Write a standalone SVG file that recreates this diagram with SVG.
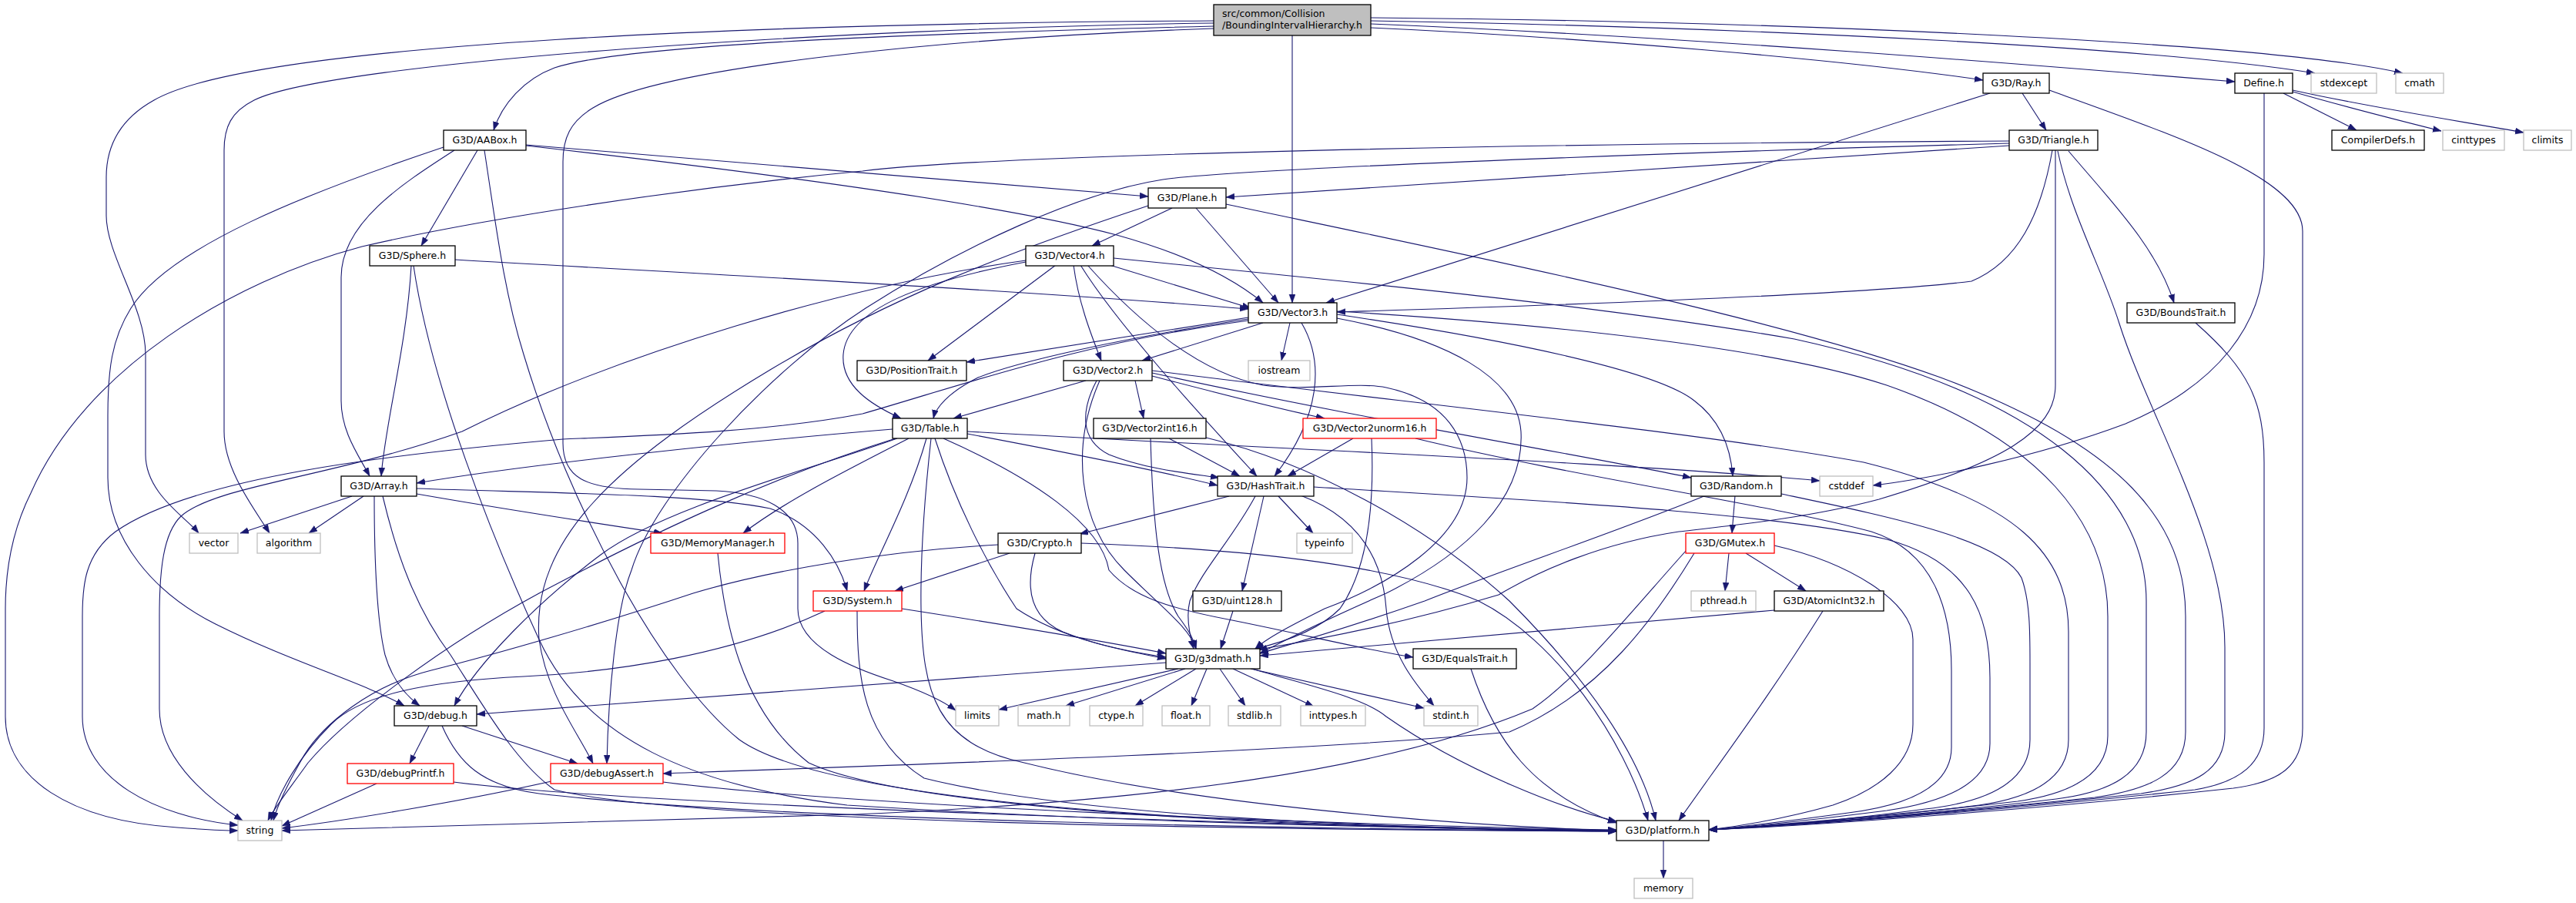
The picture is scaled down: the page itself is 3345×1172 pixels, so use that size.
<svg xmlns="http://www.w3.org/2000/svg" width="3345" height="1172" viewBox="0 0 3345 1172">
<defs>
<marker id="a" markerUnits="userSpaceOnUse" markerWidth="12" markerHeight="9" refX="11" refY="4" orient="auto"><path d="M0,0 L11,4 L0,8 z" fill="#191970" stroke="#191970" stroke-width="0.5"/></marker>
<style>
.e path{fill:none;stroke:#191970;stroke-width:1.1;marker-end:url(#a)}
.n rect{fill:#fff;stroke:#000;stroke-width:1.3}
.n.g rect{stroke:#bfbfbf}
.n.r rect{stroke:#ff0000}
.n text{font-family:"DejaVu Sans","Liberation Sans",sans-serif;font-size:12.5px;text-anchor:middle;fill:#000}
#n_root rect{fill:#bfbfbf;stroke:#000}
#n_root text{text-anchor:start}
</style>
</defs>
<rect width="3345" height="1172" fill="#fff"/>
<g id="edges" class="e">
<path d="M1576,34 C1250,42 820,55 720,88 C680,103 652,135 641,169"/>
<path d="M1576,27 C1000,30 330,55 200,130 C155,155 138,190 138,230 L138,280 C138,330 189,400 189,460 L189,590 C189,640 240,670 258,692"/>
<path d="M1576,30 C1100,36 430,80 330,130 C300,145 291,165 291,195 L291,560 C291,610 330,660 350,692"/>
<path d="M1576,37 C1250,48 860,85 770,140 C740,158 731,180 731,210 L731,575 C731,620 760,634 830,635 L930,637 C990,640 1036,660 1036,705 L1036,790 C1036,840 1110,868 1160,884 C1200,898 1225,910 1241,922"/>
<path d="M1678,46 L1678,393"/>
<path d="M1780,36 C2050,48 2400,78 2575,104"/>
<path d="M1780,31 C2200,48 2650,85 2902,106"/>
<path d="M1780,27 C2300,36 2800,62 3006,95"/>
<path d="M1780,23 C2350,28 2950,56 3120,95"/>
<path d="M683,188 L1491,255"/>
<path d="M683,189 C1000,225 1300,265 1450,305 C1540,330 1600,360 1640,393"/>
<path d="M620,195 L547,319"/>
<path d="M590,195 C520,240 443,290 443,360 L443,520 C443,560 465,590 480,618"/>
<path d="M576,191 C400,250 220,320 170,400 C145,440 140,480 140,540 L140,620 C140,700 200,770 280,810 C380,860 470,885 525,916"/>
<path d="M629,195 C645,300 655,380 680,460 C740,660 860,880 960,960 C1100,1060 1800,1075 2099,1078"/>
<path d="M2626,121 L2657,169"/>
<path d="M2584,121 L1722,393"/>
<path d="M2661,117 C2820,175 2990,230 2990,300 L2990,945 C2990,995 2960,1015 2900,1023 C2650,1050 2350,1072 2219,1077"/>
<path d="M2965,121 L3060,169"/>
<path d="M2977,119 C3050,140 3130,160 3170,170"/>
<path d="M2977,117 C3080,140 3200,158 3277,172"/>
<path d="M2940,121 L2940,330 C2940,420 2880,500 2760,550 C2640,595 2500,622 2432,630"/>
<path d="M2609,189 C2200,215 1800,240 1592,256"/>
<path d="M2609,183 C2000,186 1300,200 1120,222 C880,245 620,285 470,320 C300,365 110,480 40,640 C15,690 7,740 7,790 L7,930 C7,1010 90,1065 230,1074 C270,1077 290,1078 309,1078"/>
<path d="M2609,186 C2100,200 1600,220 1510,233 C1400,250 1250,320 1124,400 C1000,480 850,640 820,740 C800,790 790,900 788,991"/>
<path d="M2665,195 C2650,280 2620,340 2560,365 C2400,385 1900,400 1736,405"/>
<path d="M2669,195 L2669,500 C2669,560 2600,600 2440,648 C2350,672 2250,682 2180,690 C2080,705 2000,740 1946,772 C1820,810 1700,832 1634,843"/>
<path d="M2672,196 C2690,280 2730,350 2752,420 C2790,540 2889,700 2889,840 L2889,950 C2889,1000 2850,1020 2780,1030 C2550,1055 2330,1070 2219,1077"/>
<path d="M2686,196 C2740,260 2800,320 2823,393"/>
<path d="M2851,419 C2920,480 2940,520 2940,600 L2940,945 C2940,990 2910,1015 2850,1025 C2600,1052 2340,1071 2219,1077"/>
<path d="M1522,270 L1418,319"/>
<path d="M1553,270 L1660,393"/>
<path d="M1592,265 C1900,330 2300,410 2520,490 C2760,580 2838,680 2838,800 L2838,950 C2838,1005 2790,1025 2720,1035 C2500,1058 2320,1071 2219,1077"/>
<path d="M1491,267 C1300,330 1150,390 1000,480 C800,600 690,700 700,830 C710,900 750,950 770,991"/>
<path d="M591,337 C900,355 1300,375 1621,401"/>
<path d="M534,345 C528,450 500,550 495,618"/>
<path d="M537,345 C560,500 640,700 700,830 C760,960 900,1020 1100,1045 C1500,1070 1900,1076 2099,1078"/>
<path d="M1441,344 L1624,400"/>
<path d="M1371,344 L1205,468"/>
<path d="M1394,344 C1400,390 1415,430 1430,468"/>
<path d="M1403,344 C1450,420 1560,540 1632,618"/>
<path d="M1412,344 C1480,420 1560,485 1640,500 C1700,508 1760,495 1800,503 C1880,520 1905,570 1905,620 C1905,700 1800,760 1720,790 C1680,810 1645,828 1630,842"/>
<path d="M1332,340 C1200,365 1100,400 1095,460 C1092,500 1130,525 1170,543"/>
<path d="M1332,338 C1100,370 800,460 600,560 C430,620 280,630 235,670 C212,692 207,740 207,800 L207,920 C207,980 260,1030 315,1065"/>
<path d="M1446,335 C1800,370 2100,400 2330,440 C2650,510 2787,640 2787,780 L2787,950 C2787,1005 2740,1028 2670,1037 C2480,1060 2310,1071 2219,1077"/>
<path d="M1621,412 L1255,470"/>
<path d="M1621,414 C1450,440 1320,470 1270,490 C1230,510 1215,530 1212,543"/>
<path d="M1640,419 L1483,468"/>
<path d="M1675,419 L1664,468"/>
<path d="M1690,419 C1720,470 1715,540 1655,618"/>
<path d="M1736,413 C1880,440 1970,490 1975,560 C1980,650 1900,720 1800,770 C1720,805 1670,830 1636,848"/>
<path d="M1736,408 C1950,440 2150,480 2200,520 C2240,550 2248,590 2250,618"/>
<path d="M1736,404 C2000,420 2300,450 2450,500 C2650,570 2737,680 2737,800 L2737,955 C2737,1005 2690,1030 2620,1040 C2450,1060 2300,1071 2219,1077"/>
<path d="M1621,416 C1400,445 1250,500 1120,537 C1000,560 850,565 731,570 C500,590 250,620 150,690 C110,720 107,760 107,800 L107,930 C107,1010 200,1060 309,1071"/>
<path d="M1410,494 L1238,543"/>
<path d="M1424,494 C1405,530 1400,570 1440,590 C1490,610 1550,615 1583,620"/>
<path d="M1428,494 C1390,580 1400,680 1460,740 C1510,790 1545,815 1553,842"/>
<path d="M1474,494 L1485,543"/>
<path d="M1496,488 C1580,510 1680,535 1720,543"/>
<path d="M1496,484 C1750,540 2050,590 2196,620"/>
<path d="M1496,481 C1800,520 2200,560 2420,600 C2620,650 2686,720 2686,820 L2686,960 C2686,1010 2640,1035 2570,1045 C2430,1063 2290,1072 2219,1077"/>
<path d="M1159,557 C1000,570 700,600 541,627"/>
<path d="M1163,569 C1000,620 850,690 700,770 C580,835 450,930 400,990 C375,1025 355,1050 348,1065"/>
<path d="M1165,569 C1050,610 860,660 780,720 C700,780 620,860 590,916"/>
<path d="M1180,569 C1100,610 1020,650 965,692"/>
<path d="M1203,569 C1180,650 1140,720 1122,767"/>
<path d="M1209,569 C1200,650 1195,720 1196,790 C1198,900 1215,965 1330,990 C1550,1045 1900,1072 2099,1078"/>
<path d="M1214,569 C1240,650 1280,730 1320,790 C1380,830 1460,845 1514,853"/>
<path d="M1225,569 C1340,620 1430,680 1440,740 C1470,775 1520,790 1600,805 C1700,825 1780,845 1835,853"/>
<path d="M1256,560 C1700,585 2100,600 2363,624"/>
<path d="M1256,563 C1400,590 1500,610 1581,630"/>
<path d="M1518,569 L1610,618"/>
<path d="M1494,569 C1497,680 1505,760 1530,800 C1545,820 1550,830 1553,842"/>
<path d="M1566,568 C1700,600 1850,680 1960,780 C2060,880 2130,980 2150,1065"/>
<path d="M1757,569 L1672,618"/>
<path d="M1781,569 C1785,660 1775,740 1740,790 C1710,820 1660,835 1630,842"/>
<path d="M1838,569 C2050,620 2300,655 2430,690 C2510,715 2534,790 2534,870 L2534,970 C2534,1020 2480,1045 2400,1055 C2320,1066 2260,1073 2219,1077"/>
<path d="M1596,644 L1402,693"/>
<path d="M1660,644 L1705,692"/>
<path d="M1641,644 L1613,767"/>
<path d="M1630,644 C1600,700 1560,740 1545,780 C1540,800 1545,825 1550,842"/>
<path d="M1689,643 C1760,670 1795,720 1800,790 C1805,850 1840,890 1862,916"/>
<path d="M1706,632 C2000,650 2300,665 2450,700 C2560,730 2584,800 2584,880 L2584,965 C2584,1015 2530,1040 2450,1052 C2340,1066 2270,1073 2219,1077"/>
<path d="M457,644 L312,692"/>
<path d="M472,644 L401,692"/>
<path d="M541,634 C700,640 900,640 1000,660 C1060,680 1090,730 1100,767"/>
<path d="M541,641 C650,660 780,680 860,692"/>
<path d="M486,644 C486,720 488,800 500,850 C510,885 530,905 545,916"/>
<path d="M497,644 C515,720 540,790 585,850 C630,920 670,990 720,1025 C900,1070 1700,1077 2099,1079"/>
<path d="M2253,643 L2249,692"/>
<path d="M2313,641 C2450,670 2600,700 2625,750 C2636,780 2636,820 2636,860 L2636,960 C2636,1010 2590,1040 2500,1050 C2380,1066 2280,1074 2219,1077"/>
<path d="M2215,643 C2100,690 1950,740 1850,780 C1750,815 1680,835 1636,848"/>
<path d="M1296,707 C1150,715 1000,740 900,770 C780,810 640,850 560,870 C480,890 420,940 395,980 C375,1015 360,1045 355,1065"/>
<path d="M1311,718 L1162,767"/>
<path d="M1344,718 C1332,760 1335,800 1380,820 C1430,840 1480,848 1514,855"/>
<path d="M1404,705 C1600,712 1800,730 1920,780 C2020,830 2110,960 2140,1065"/>
<path d="M2245,718 L2240,767"/>
<path d="M2267,718 L2345,767"/>
<path d="M2304,708 C2400,730 2484,780 2484,830 L2484,940 C2484,990 2440,1025 2380,1045 C2320,1062 2260,1072 2219,1077"/>
<path d="M2200,718 C2150,800 2080,900 1960,950 C1700,975 1200,992 861,1004"/>
<path d="M2190,714 C2130,780 2050,880 1990,920 C1800,1000 1500,1040 1110,1057 C800,1068 500,1075 366,1078"/>
<path d="M1601,793 L1585,842"/>
<path d="M1171,790 C1300,810 1420,830 1514,848"/>
<path d="M1113,793 C1113,880 1120,960 1200,1010 C1400,1060 1800,1075 2099,1078"/>
<path d="M1071,793 C950,850 800,872 680,878 C560,884 470,900 430,940 C390,980 360,1030 352,1065"/>
<path d="M2304,792 L1636,851"/>
<path d="M2367,793 C2300,900 2240,980 2180,1065"/>
<path d="M932,718 C940,800 960,920 1050,990 C1200,1060 1800,1076 2099,1079"/>
<path d="M1910,868 C1940,960 1990,1030 2099,1068"/>
<path d="M1530,868 L1297,921"/>
<path d="M1539,868 L1384,916"/>
<path d="M1553,868 L1474,916"/>
<path d="M1567,868 L1547,916"/>
<path d="M1584,868 L1617,916"/>
<path d="M1601,868 L1706,917"/>
<path d="M1624,868 L1849,919"/>
<path d="M1514,860 L619,927"/>
<path d="M1626,868 C1700,890 1770,905 1800,930 C1900,1000 2030,1050 2099,1066"/>
<path d="M557,942 L532,991"/>
<path d="M600,942 L750,991"/>
<path d="M574,942 C595,990 625,1020 700,1030 C1000,1065 1700,1076 2099,1079"/>
<path d="M489,1017 L366,1072"/>
<path d="M589,1015 C800,1042 1500,1068 2099,1078"/>
<path d="M716,1014 C600,1040 450,1065 366,1075"/>
<path d="M861,1015 C1100,1045 1700,1070 2099,1077"/>
<path d="M2160,1091 L2160,1140"/>
</g>
<g id="n_root" class="n"><rect x="1576" y="6" width="204" height="40"/><text x="1587" y="22">src/common/Collision</text><text x="1587" y="37">/BoundingIntervalHierarchy.h</text></g>
<g id="n_AABox" class="n"><rect x="576" y="169" width="107" height="26"/><text x="629.5" y="186.2">G3D/AABox.h</text></g>
<g id="n_Ray" class="n"><rect x="2575" y="95" width="86" height="26"/><text x="2618" y="112.2">G3D/Ray.h</text></g>
<g id="n_Define" class="n"><rect x="2902" y="95" width="75" height="26"/><text x="2939.5" y="112.2">Define.h</text></g>
<g id="n_stdexcept" class="n g"><rect x="3001" y="95" width="85" height="26"/><text x="3043.5" y="112.2">stdexcept</text></g>
<g id="n_cmath" class="n g"><rect x="3111" y="95" width="62" height="26"/><text x="3142" y="112.2">cmath</text></g>
<g id="n_Triangle" class="n"><rect x="2609" y="169" width="115" height="26"/><text x="2666.5" y="186.2">G3D/Triangle.h</text></g>
<g id="n_CompilerDefs" class="n"><rect x="3028" y="169" width="120" height="26"/><text x="3088" y="186.2">CompilerDefs.h</text></g>
<g id="n_cinttypes" class="n g"><rect x="3172" y="169" width="80" height="26"/><text x="3212" y="186.2">cinttypes</text></g>
<g id="n_climits" class="n g"><rect x="3277" y="169" width="62" height="26"/><text x="3308" y="186.2">climits</text></g>
<g id="n_Plane" class="n"><rect x="1491" y="244" width="101" height="26"/><text x="1541.5" y="261.2">G3D/Plane.h</text></g>
<g id="n_Sphere" class="n"><rect x="480" y="319" width="111" height="26"/><text x="535.5" y="336.2">G3D/Sphere.h</text></g>
<g id="n_Vector4" class="n"><rect x="1332" y="319" width="114" height="26"/><text x="1389" y="336.2">G3D/Vector4.h</text></g>
<g id="n_BoundsTrait" class="n"><rect x="2762" y="393" width="140" height="26"/><text x="2832" y="410.2">G3D/BoundsTrait.h</text></g>
<g id="n_Vector3" class="n"><rect x="1621" y="393" width="115" height="26"/><text x="1678.5" y="410.2">G3D/Vector3.h</text></g>
<g id="n_PositionTrait" class="n"><rect x="1113" y="468" width="142" height="26"/><text x="1184" y="485.2">G3D/PositionTrait.h</text></g>
<g id="n_Vector2" class="n"><rect x="1381" y="468" width="115" height="26"/><text x="1438.5" y="485.2">G3D/Vector2.h</text></g>
<g id="n_iostream" class="n g"><rect x="1621" y="468" width="80" height="26"/><text x="1661" y="485.2">iostream</text></g>
<g id="n_Table" class="n"><rect x="1159" y="543" width="97" height="26"/><text x="1207.5" y="560.2">G3D/Table.h</text></g>
<g id="n_Vector2int16" class="n"><rect x="1420" y="543" width="146" height="26"/><text x="1493" y="560.2">G3D/Vector2int16.h</text></g>
<g id="n_Vector2unorm16" class="n r"><rect x="1692" y="543" width="173" height="26"/><text x="1778.5" y="560.2">G3D/Vector2unorm16.h</text></g>
<g id="n_HashTrait" class="n"><rect x="1581" y="618" width="125" height="26"/><text x="1643.5" y="635.2">G3D/HashTrait.h</text></g>
<g id="n_Array" class="n"><rect x="443" y="618" width="98" height="26"/><text x="492" y="635.2">G3D/Array.h</text></g>
<g id="n_Random" class="n"><rect x="2196" y="618" width="117" height="26"/><text x="2254.5" y="635.2">G3D/Random.h</text></g>
<g id="n_cstddef" class="n g"><rect x="2363" y="618" width="69" height="26"/><text x="2397.5" y="635.2">cstddef</text></g>
<g id="n_vector" class="n g"><rect x="246" y="692" width="63" height="26"/><text x="277.5" y="709.2">vector</text></g>
<g id="n_algorithm" class="n g"><rect x="334" y="692" width="82" height="26"/><text x="375" y="709.2">algorithm</text></g>
<g id="n_MemoryManager" class="n r"><rect x="845" y="692" width="174" height="26"/><text x="932" y="709.2">G3D/MemoryManager.h</text></g>
<g id="n_Crypto" class="n"><rect x="1296" y="692" width="108" height="26"/><text x="1350" y="709.2">G3D/Crypto.h</text></g>
<g id="n_typeinfo" class="n g"><rect x="1684" y="692" width="72" height="26"/><text x="1720" y="709.2">typeinfo</text></g>
<g id="n_GMutex" class="n r"><rect x="2189" y="692" width="115" height="26"/><text x="2246.5" y="709.2">G3D/GMutex.h</text></g>
<g id="n_System" class="n r"><rect x="1056" y="767" width="115" height="26"/><text x="1113.5" y="784.2">G3D/System.h</text></g>
<g id="n_uint128" class="n"><rect x="1549" y="767" width="115" height="26"/><text x="1606.5" y="784.2">G3D/uint128.h</text></g>
<g id="n_pthread" class="n g"><rect x="2196" y="767" width="84" height="26"/><text x="2238" y="784.2">pthread.h</text></g>
<g id="n_AtomicInt32" class="n"><rect x="2304" y="767" width="142" height="26"/><text x="2375" y="784.2">G3D/AtomicInt32.h</text></g>
<g id="n_g3dmath" class="n"><rect x="1514" y="842" width="122" height="26"/><text x="1575" y="859.2">G3D/g3dmath.h</text></g>
<g id="n_EqualsTrait" class="n"><rect x="1835" y="842" width="134" height="26"/><text x="1902" y="859.2">G3D/EqualsTrait.h</text></g>
<g id="n_limits" class="n g"><rect x="1241" y="916" width="56" height="26"/><text x="1269" y="933.2">limits</text></g>
<g id="n_math" class="n g"><rect x="1322" y="916" width="67" height="26"/><text x="1355.5" y="933.2">math.h</text></g>
<g id="n_ctype" class="n g"><rect x="1415" y="916" width="69" height="26"/><text x="1449.5" y="933.2">ctype.h</text></g>
<g id="n_float" class="n g"><rect x="1509" y="916" width="62" height="26"/><text x="1540" y="933.2">float.h</text></g>
<g id="n_stdlib" class="n g"><rect x="1595" y="916" width="68" height="26"/><text x="1629" y="933.2">stdlib.h</text></g>
<g id="n_inttypes" class="n g"><rect x="1689" y="916" width="84" height="26"/><text x="1731" y="933.2">inttypes.h</text></g>
<g id="n_stdint" class="n g"><rect x="1849" y="916" width="70" height="26"/><text x="1884" y="933.2">stdint.h</text></g>
<g id="n_debug" class="n"><rect x="512" y="916" width="107" height="26"/><text x="565.5" y="933.2">G3D/debug.h</text></g>
<g id="n_debugPrintf" class="n r"><rect x="451" y="991" width="138" height="26"/><text x="520" y="1008.2">G3D/debugPrintf.h</text></g>
<g id="n_debugAssert" class="n r"><rect x="715" y="991" width="146" height="26"/><text x="788" y="1008.2">G3D/debugAssert.h</text></g>
<g id="n_string" class="n g"><rect x="309" y="1065" width="57" height="26"/><text x="337.5" y="1082.2">string</text></g>
<g id="n_platform" class="n"><rect x="2099" y="1065" width="120" height="26"/><text x="2159" y="1082.2">G3D/platform.h</text></g>
<g id="n_memory" class="n g"><rect x="2122" y="1140" width="76" height="26"/><text x="2160" y="1157.2">memory</text></g>
</svg>
